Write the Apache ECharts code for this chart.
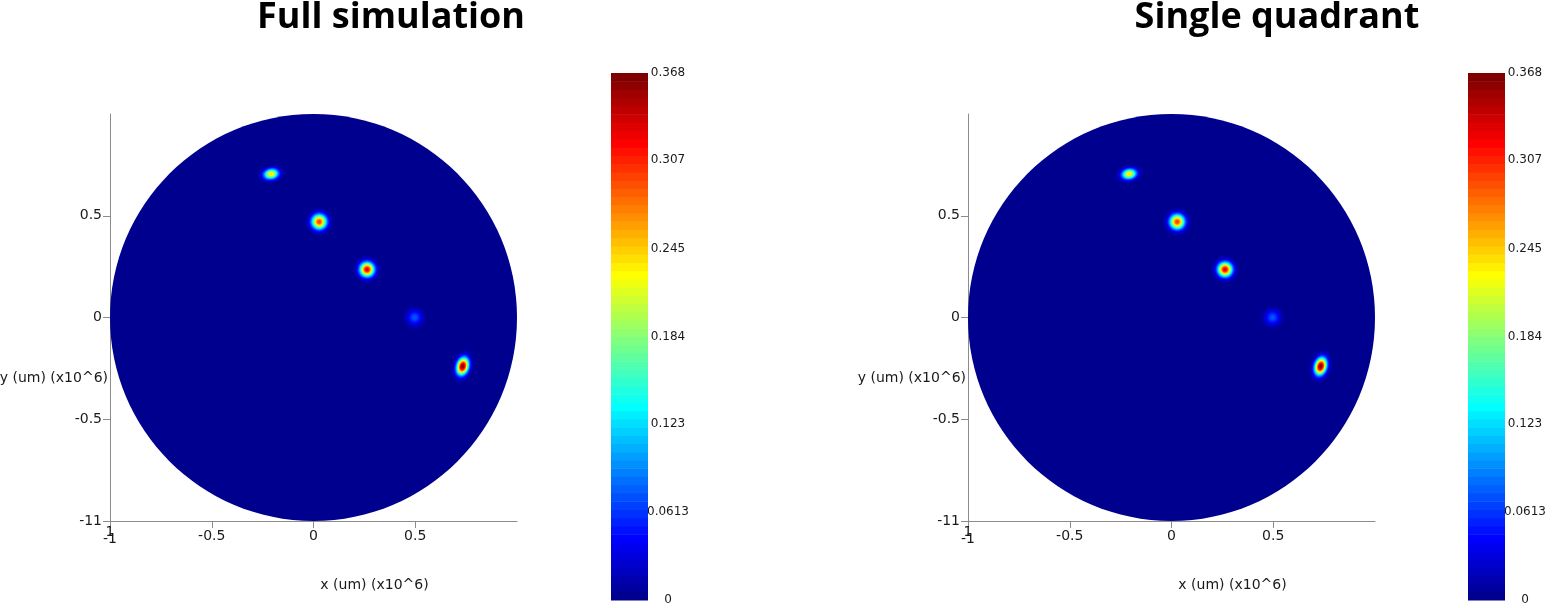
<!DOCTYPE html>
<html>
<head>
<meta charset="utf-8">
<script src="https://cdn.jsdelivr.net/npm/echarts@6/dist/echarts.min.js"></script>
<style>
  html, body { margin: 0; padding: 0; background: #fff; }
  #chart { width: 1560px; height: 608px; }
</style>
</head>
<body>
<div id="chart"></div>
<script>
// panel titles, tick labels and colour scale
const panelTitles = ['Full simulation', 'Single quadrant'];
const xAxisName = 'x (um) (x10^6)';
const yAxisName = 'y (um) (x10^6)';
const axisTicks = [-1, -0.5, 0, 0.5];
const colorTicks = [0, 0.0613, 0.123, 0.184, 0.245, 0.307, 0.368];
const colorMax = 0.368;
const colorBands = 64;
const diskRadius = 1;

// spots of the full simulation: centre, peak, width (sigma), tilt in degrees
const fullSpotX = [-0.208, 0.028, 0.263, 0.497, 0.733];
const fullSpotY = [0.705, 0.470, 0.236, 0.0, -0.240];
const fullSpotPeak = [0.24, 0.30, 0.33, 0.075, 0.368];
const fullSpotSx = [0.025, 0.025, 0.024, 0.026, 0.019];
const fullSpotSy = [0.017, 0.025, 0.024, 0.026, 0.029];
const fullSpotTilt = [10, 0, 0, 0, -15];

// spots of the single quadrant run
const quadSpotX = [-0.208, 0.028, 0.263, 0.497, 0.733];
const quadSpotY = [0.705, 0.470, 0.236, 0.0, -0.240];
const quadSpotPeak = [0.24, 0.30, 0.33, 0.075, 0.368];
const quadSpotSx = [0.025, 0.025, 0.024, 0.026, 0.019];
const quadSpotSy = [0.017, 0.025, 0.024, 0.026, 0.029];
const quadSpotTilt = [10, 0, 0, 0, -15];

const jet = ['#00007f', '#0000ff', '#007fff', '#00ffff', '#7fff7f', '#ffff00', '#ff7f00', '#ff0000', '#7f0000'];
const step = colorMax / colorBands;
const axisColor = '#8c8c8c';
const textColor = '#1a1a1a';
const font = 'DejaVu Sans';

// one filled contour per colour band that the spot reaches
function spotRings(xs, ys, peaks, sxs, sys, tilts) {
  const items = [];
  xs.forEach((x, i) => {
    for (let k = 1; k < colorBands; k++) {
      const level = k * step;
      if (level >= peaks[i]) break;
      const f = Math.sqrt(2 * Math.log(peaks[i] / level));
      items.push([(k + 1) * step, x, ys[i], sxs[i] * f, sys[i] * f, tilts[i]]);
    }
  });
  return items;
}

const bandData = [];
for (let i = 0; i < colorBands; i++) {
  bandData.push([(i + 1) * step, i * step, (i + 1) * step]);
}

function renderDisk(params, api) {
  const c = api.coord([api.value(1), api.value(2)]);
  const r = api.size([api.value(3), api.value(3)]);
  return {
    type: 'ellipse',
    shape: { cx: c[0], cy: c[1], rx: r[0], ry: r[1] },
    style: { fill: api.visual('color') }
  };
}

function renderSpot(params, api) {
  const c = api.coord([api.value(1), api.value(2)]);
  const s = api.size([api.value(3), api.value(4)]);
  return {
    type: 'ellipse',
    x: c[0],
    y: c[1],
    rotation: api.value(5) * Math.PI / 180,
    shape: { cx: 0, cy: 0, rx: s[0], ry: s[1] },
    style: { fill: api.visual('color') }
  };
}

function renderBand(params, api) {
  const p0 = api.coord([0, api.value(1)]);
  const p1 = api.coord([1, api.value(2)]);
  return {
    type: 'rect',
    shape: { x: p0[0], y: p1[1], width: p1[0] - p0[0], height: p0[1] - p1[1] + 0.6 },
    style: { fill: api.visual('color') }
  };
}

function plotXAxis(gridIndex) {
  return {
    type: 'value',
    gridIndex,
    min: -1,
    max: 1,
    name: xAxisName,
    nameLocation: 'middle',
    nameGap: 57,
    nameMoveOverlap: false,
    nameTextStyle: { color: textColor, fontFamily: font, fontSize: 14, padding: [0, 0, 0, 122] },
    axisLine: { onZero: false, lineStyle: { color: axisColor } },
    axisTick: { customValues: axisTicks, length: 7, lineStyle: { color: axisColor } },
    axisLabel: {
      customValues: axisTicks,
      color: textColor,
      fontFamily: font,
      fontSize: 14,
      margin: 8,
      formatter: v => (v === -1 ? '{a|1}\n{b|-1}' : String(v)),
      rich: {
        a: { fontFamily: font, fontSize: 14, lineHeight: 6, color: textColor },
        b: { fontFamily: font, fontSize: 14, lineHeight: 9, color: textColor }
      }
    },
    splitLine: { show: false }
  };
}

function plotYAxis(gridIndex) {
  return {
    type: 'value',
    gridIndex,
    min: -1,
    max: 1,
    axisLine: { onZero: false, lineStyle: { color: axisColor } },
    axisTick: { customValues: axisTicks, length: 7, lineStyle: { color: axisColor } },
    axisLabel: {
      customValues: axisTicks,
      color: textColor,
      fontFamily: font,
      fontSize: 14,
      margin: 8,
      formatter: v => (v === -1 ? '-11' : String(v))
    },
    splitLine: { show: false }
  };
}

function barXAxis(gridIndex) {
  return { type: 'value', gridIndex, min: 0, max: 1, show: false };
}

function barYAxis(gridIndex) {
  return {
    type: 'value',
    gridIndex,
    position: 'right',
    min: 0,
    max: colorMax,
    axisLine: { show: false },
    axisTick: { show: false },
    splitLine: { show: false },
    axisLabel: {
      customValues: colorTicks,
      color: textColor,
      fontFamily: font,
      fontSize: 12,
      align: 'center',
      margin: 20,
      formatter: v => String(v)
    }
  };
}

function titleText(text, x) {
  return { type: 'text', x, y: 18, style: { text, fill: '#000', font: 'bold 36px "Open Sans"', textAlign: 'center', textVerticalAlign: 'middle' } };
}

function yNameText(x) {
  return { type: 'text', x, y: 378, style: { text: yAxisName, fill: textColor, font: '14px "DejaVu Sans"', textAlign: 'right', textVerticalAlign: 'middle' } };
}

const chart = echarts.init(document.getElementById('chart'), null, { renderer: 'canvas' });

const option = {
  animation: false,
  backgroundColor: '#fff',
  graphic: [
    titleText(panelTitles[0], 391),
    titleText(panelTitles[1], 1277),
    yNameText(108),
    yNameText(966)
  ],
  grid: [
    { left: 110, top: 114, width: 407, height: 407, outerBoundsMode: 'none' },
    { left: 611, top: 73, width: 37, height: 527, outerBoundsMode: 'none' },
    { left: 968, top: 114, width: 407, height: 407, outerBoundsMode: 'none' },
    { left: 1468, top: 73, width: 37, height: 527, outerBoundsMode: 'none' }
  ],
  xAxis: [plotXAxis(0), barXAxis(1), plotXAxis(2), barXAxis(3)],
  yAxis: [plotYAxis(0), barYAxis(1), plotYAxis(2), barYAxis(3)],
  visualMap: {
    type: 'continuous',
    show: false,
    min: 0,
    max: colorMax,
    dimension: 0,
    inRange: { color: jet }
  },
  series: [
    { type: 'custom', xAxisIndex: 0, yAxisIndex: 0, renderItem: renderDisk, encode: { x: 1, y: 2 }, data: [[step, 0, 0, diskRadius]] },
    { type: 'custom', xAxisIndex: 0, yAxisIndex: 0, renderItem: renderSpot, encode: { x: 1, y: 2 },
      data: spotRings(fullSpotX, fullSpotY, fullSpotPeak, fullSpotSx, fullSpotSy, fullSpotTilt) },
    { type: 'custom', xAxisIndex: 1, yAxisIndex: 1, renderItem: renderBand, encode: { y: [1, 2] }, data: bandData },
    { type: 'custom', xAxisIndex: 2, yAxisIndex: 2, renderItem: renderDisk, encode: { x: 1, y: 2 }, data: [[step, 0, 0, diskRadius]] },
    { type: 'custom', xAxisIndex: 2, yAxisIndex: 2, renderItem: renderSpot, encode: { x: 1, y: 2 },
      data: spotRings(quadSpotX, quadSpotY, quadSpotPeak, quadSpotSx, quadSpotSy, quadSpotTilt) },
    { type: 'custom', xAxisIndex: 3, yAxisIndex: 3, renderItem: renderBand, encode: { y: [1, 2] }, data: bandData }
  ]
};

chart.setOption(option);
window.addEventListener('resize', () => chart.resize());
</script>
</body>
</html>
